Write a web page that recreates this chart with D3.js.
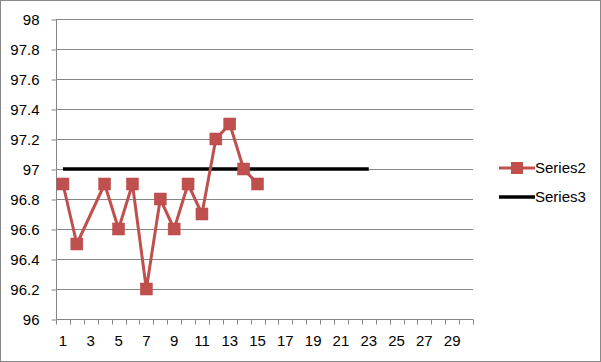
<!DOCTYPE html>
<html>
<head>
<meta charset="utf-8">
<script src="https://cdn.jsdelivr.net/npm/d3@7"></script>
<style>
  body { margin: 0; background: #fff; }
  svg text { font-family: "Liberation Sans", Arial, sans-serif; fill: #000; }
</style>
</head>
<body>
<svg id="chart" width="601" height="362"></svg>
<script>
// categories 1..30 on the x axis, odd ones labelled
const categories = d3.range(1, 31);
const yTicks = [96, 96.2, 96.4, 96.6, 96.8, 97, 97.2, 97.4, 97.6, 97.8, 98];

// Series2, category 3 is blank (line joins over it)
const series2Cats = [1, 2, 4, 5, 6, 7, 8, 9, 10, 11, 12, 13, 14, 15];
const series2Vals = [96.9, 96.5, 96.9, 96.6, 96.9, 96.2, 96.8, 96.6, 96.9, 96.7, 97.2, 97.3, 97.0, 96.9];

// Series3, flat reference line
const series3Cats = d3.range(1, 24);
const series3Vals = series3Cats.map(() => 97);

const seriesNames = ['Series2', 'Series3'];
const RED = '#C0504D';
const GRID = '#868686';

const svg = d3.select('#chart');

// outer frame
svg.append('rect')
  .attr('x', 0.5).attr('y', 0.5)
  .attr('width', 600).attr('height', 361)
  .attr('fill', '#fff').attr('stroke', '#898989');

const plot = { left: 56, right: 473, top: 19, bottom: 319 };

const xScale = d3.scaleBand()
  .domain(categories)
  .range([plot.left, plot.right]);

const yScale = d3.scaleLinear()
  .domain([96, 98])
  .range([plot.bottom, plot.top]);

// horizontal gridlines
svg.append('g')
  .selectAll('line')
  .data(yTicks.slice(1))
  .join('line')
  .attr('x1', plot.left).attr('x2', plot.right)
  .attr('y1', d => Math.round(yScale(d)) + 0.5)
  .attr('y2', d => Math.round(yScale(d)) + 0.5)
  .attr('stroke', GRID).attr('stroke-width', 1);

// y axis
const yAxis = svg.append('g')
  .attr('transform', `translate(${plot.left + 0.5},0.5)`)
  .call(d3.axisLeft(yScale).tickValues(yTicks).tickSize(5).tickPadding(12).tickFormat(d => d3.format('')(+d.toFixed(1))));
yAxis.select('.domain').attr('stroke', GRID).attr('d', `M0,${plot.top}V${plot.bottom}`);
yAxis.selectAll('line').attr('stroke', GRID);
yAxis.selectAll('text').style('font-size', '15px').attr('fill', '#000');

// x axis
const xAxis = svg.append('g')
  .attr('transform', `translate(0,${plot.bottom + 0.5})`)
  .call(d3.axisBottom(xScale).tickSize(0).tickPadding(16)
    .tickFormat(d => (d % 2 === 1 ? d : '')));
xAxis.select('.domain').attr('stroke', GRID).attr('d', `M${plot.left},0H${plot.right}`);
xAxis.selectAll('text').style('font-size', '15px').attr('fill', '#000');
// tick marks sit between categories
xAxis.append('g')
  .selectAll('line')
  .data(d3.range(categories.length + 1))
  .join('line')
  .attr('x1', i => Math.round(plot.left + i * xScale.step()) + 0.5)
  .attr('x2', i => Math.round(plot.left + i * xScale.step()) + 0.5)
  .attr('y1', 0).attr('y2', 5)
  .attr('stroke', GRID);

const cx = c => xScale(c) + xScale.bandwidth() / 2;

// Series3 line
svg.append('path')
  .datum(series3Cats.map((c, i) => [c, series3Vals[i]]))
  .attr('fill', 'none')
  .attr('stroke', '#000')
  .attr('stroke-width', 3.5)
  .attr('d', d3.line().x(d => cx(d[0])).y(d => yScale(d[1])));

// Series2 line + markers
const s2 = series2Cats.map((c, i) => [c, series2Vals[i]]);
svg.append('path')
  .datum(s2)
  .attr('fill', 'none')
  .attr('stroke', RED)
  .attr('stroke-width', 3)
  .attr('stroke-linejoin', 'round')
  .attr('d', d3.line().x(d => cx(d[0])).y(d => yScale(d[1])));

svg.append('g')
  .selectAll('rect')
  .data(s2)
  .join('rect')
  .attr('x', d => cx(d[0]) - 6)
  .attr('y', d => yScale(d[1]) - 6)
  .attr('width', 12).attr('height', 12)
  .attr('fill', RED)
  .attr('stroke', '#B9474A').attr('stroke-width', 0.5);

// legend
const legend = svg.append('g').attr('transform', 'translate(499,0)');
const legY = [168, 197];
seriesNames.forEach((name, i) => {
  const g = legend.append('g').attr('transform', `translate(0,${legY[i]})`);
  g.append('line')
    .attr('x1', 0).attr('x2', 36)
    .attr('stroke', i === 0 ? RED : '#000')
    .attr('stroke-width', i === 0 ? 3 : 3.5);
  if (i === 0) {
    g.append('rect')
      .attr('x', 12).attr('y', -6)
      .attr('width', 12).attr('height', 12)
      .attr('fill', RED);
  }
  g.append('text')
    .attr('x', 36).attr('y', 5)
    .style('font-size', '15px')
    .text(name);
});
</script>
</body>
</html>
